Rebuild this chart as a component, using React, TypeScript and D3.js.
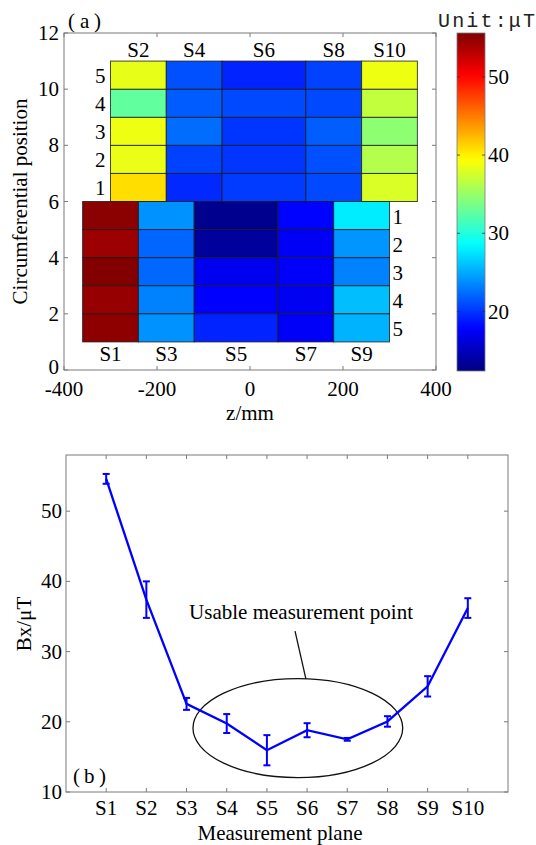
import React from 'react';
import * as d3 from 'd3';

// ---- Panel (a): Bx distribution over the measurement planes ----
const zTicks = [-400, -200, 0, 200, 400];
const posTicks = [0, 2, 4, 6, 8, 10, 12];
const rowIds = [1, 2, 3, 4, 5];

const upperPlanes = ['S2', 'S4', 'S6', 'S8', 'S10'];
const upperEdges = [-300, -180, -60, 120, 240, 360];
// one list per plane, circumferential rows 1..5
const upperValues = [
  [40.8, 38.5, 38.7, 32.7, 38.4],
  [19.5, 20.6, 22.4, 21.7, 21.2],
  [20.3, 20.0, 20.0, 20.9, 19.3],
  [20.9, 21.2, 21.8, 20.9, 20.6],
  [37.8, 36.2, 34.6, 36.8, 38.7],
];

const lowerPlanes = ['S1', 'S3', 'S5', 'S7', 'S9'];
const lowerEdges = [-360, -240, -120, 60, 180, 300];
const lowerValues = [
  [55.1, 54.4, 55.5, 54.6, 55.0],
  [24.0, 22.1, 22.2, 23.3, 24.0],
  [13.0, 13.6, 17.2, 17.8, 19.3],
  [17.9, 17.4, 17.6, 17.3, 17.5],
  [27.8, 24.1, 23.3, 25.9, 25.4],
];

const colorTicks = [20, 30, 40, 50];
const colorDomain = [12.4, 55.6];

// ---- Panel (b): mean Bx per plane with spread ----
const planes = ['S1', 'S2', 'S3', 'S4', 'S5', 'S6', 'S7', 'S8', 'S9', 'S10'];
const bxMean = [54.6, 37.4, 22.55, 19.75, 15.95, 18.8, 17.5, 20.05, 25.05, 36.2];
const bxErr = [0.7, 2.6, 0.85, 1.35, 2.15, 1.0, 0.2, 0.75, 1.45, 1.4];
const bxTicks = [10, 20, 30, 40, 50];

const SERIF = '"Liberation Serif", "Times New Roman", serif';
const MONO = '"Liberation Mono", "DejaVu Sans Mono", monospace';
const AXIS = '#7a7a7a';
const FS = 21;

function jet(t: number): string {
  const c = (v: number) => Math.max(0, Math.min(1, v));
  const r = c(1.5 - Math.abs(4 * t - 3));
  const g = c(1.5 - Math.abs(4 * t - 2));
  const b = c(1.5 - Math.abs(4 * t - 1));
  return d3.rgb(r * 255, g * 255, b * 255).formatHex();
}

export default function App() {
  // panel (a) scales
  const xA = d3.scaleLinear().domain([-400, 400]).range([64, 436]);
  const yA = d3.scaleLinear().domain([0, 12]).range([370, 33]);
  const cNorm = d3.scaleLinear().domain(colorDomain).range([0, 1]).clamp(true);
  const color = (v: number) => jet(cNorm(v));
  const cbY = d3.scaleLinear().domain(colorDomain).range([371, 33]);
  const cbX0 = 457;
  const cbX1 = 485;

  // panel (b) scales
  const xB = d3.scaleLinear().domain([0, 11]).range([66, 508]);
  const yB = d3.scaleLinear().domain([10, 58]).range([792, 455]);
  const line = d3
    .line<number>()
    .x((_, i) => xB(i + 1))
    .y((d) => yB(d));

  const gradStops = d3.range(0, 1.0001, 0.02);

  const cells = (edges: number[], values: number[][], upper: boolean) =>
    values.flatMap((col, ci) =>
      col.map((v, ri) => {
        const r = rowIds[ri];
        const y0 = upper ? 5 + r : 6 - r;
        return (
          <rect
            key={`${upper ? 'u' : 'l'}-${ci}-${ri}`}
            x={xA(edges[ci])}
            y={yA(y0 + 1)}
            width={xA(edges[ci + 1]) - xA(edges[ci])}
            height={yA(y0) - yA(y0 + 1)}
            fill={color(v)}
            stroke="#1a1a1a"
            strokeOpacity={0.8}
            strokeWidth={1}
          />
        );
      })
    );

  return (
    <svg
      width={536}
      height={845}
      style={{ position: 'absolute', left: 0, top: 0, background: '#fff', fontFamily: SERIF }}
    >
      <defs>
        <linearGradient id="jetbar" x1="0" y1="1" x2="0" y2="0">
          {gradStops.map((t) => (
            <stop key={t} offset={t} stopColor={jet(t)} />
          ))}
        </linearGradient>
      </defs>

      {/* ---------- panel (a) ---------- */}
      <text y={28} fontSize={FS}>
        <tspan x={68}>(</tspan>
        <tspan x={80}>a</tspan>
        <tspan x={94}>)</tspan>
      </text>

      {cells(upperEdges, upperValues, true)}
      {cells(lowerEdges, lowerValues, false)}

      {/* column labels */}
      {upperPlanes.map((p, i) => (
        <text
          key={p}
          x={(xA(upperEdges[i]) + xA(upperEdges[i + 1])) / 2}
          y={yA(11) - 4}
          fontSize={FS}
          textAnchor="middle"
        >
          {p}
        </text>
      ))}
      {lowerPlanes.map((p, i) => (
        <text
          key={p}
          x={(xA(lowerEdges[i]) + xA(lowerEdges[i + 1])) / 2}
          y={yA(1) + 19}
          fontSize={FS}
          textAnchor="middle"
        >
          {p}
        </text>
      ))}
      {/* row labels */}
      {rowIds.map((r) => (
        <text
          key={`ur${r}`}
          x={xA(upperEdges[0]) - 5}
          y={yA(5.5 + r) + 8}
          fontSize={FS}
          textAnchor="end"
        >
          {r}
        </text>
      ))}
      {rowIds.map((r) => (
        <text
          key={`lr${r}`}
          x={xA(lowerEdges[5]) + 3}
          y={yA(6.5 - r) + 8}
          fontSize={FS}
        >
          {r}
        </text>
      ))}

      {/* axes box and ticks */}
      <rect
        x={xA(-400)}
        y={yA(12)}
        width={xA(400) - xA(-400)}
        height={yA(0) - yA(12)}
        fill="none"
        stroke={AXIS}
        strokeWidth={1}
      />
      {zTicks.map((t) => (
        <g key={`zt${t}`}>
          <line x1={xA(t)} x2={xA(t)} y1={yA(0)} y2={yA(0) - 4} stroke={AXIS} />
          <line x1={xA(t)} x2={xA(t)} y1={yA(12)} y2={yA(12) + 4} stroke={AXIS} />
          <text x={xA(t)} y={yA(0) + 26} fontSize={FS} textAnchor="middle">
            {t}
          </text>
        </g>
      ))}
      {posTicks.map((t) => (
        <g key={`pt${t}`}>
          <line x1={xA(-400)} x2={xA(-400) + 4} y1={yA(t)} y2={yA(t)} stroke={AXIS} />
          <line x1={xA(400)} x2={xA(400) - 4} y1={yA(t)} y2={yA(t)} stroke={AXIS} />
          <text x={xA(-400) - 5} y={yA(t) + (t === 0 ? 4 : 7)} fontSize={FS} textAnchor="end">
            {t}
          </text>
        </g>
      ))}
      <text x={250} y={420} fontSize={FS} textAnchor="middle">
        z/mm
      </text>
      <text
        transform={`translate(27, ${(yA(0) + yA(12)) / 2}) rotate(-90)`}
        fontSize={FS}
        textAnchor="middle"
      >
        Circumferential position
      </text>

      {/* colour bar */}
      <rect
        x={cbX0}
        y={cbY(colorDomain[1])}
        width={cbX1 - cbX0}
        height={cbY(colorDomain[0]) - cbY(colorDomain[1])}
        fill="url(#jetbar)"
        stroke={AXIS}
        strokeWidth={0.8}
      />
      {colorTicks.map((t) => (
        <g key={`ct${t}`}>
          <line x1={cbX0} x2={cbX0 + 3} y1={cbY(t)} y2={cbY(t)} stroke="#333" strokeWidth={0.8} />
          <line x1={cbX1} x2={cbX1 - 3} y1={cbY(t)} y2={cbY(t)} stroke="#333" strokeWidth={0.8} />
          <text x={cbX1 + 3} y={cbY(t) + 7} fontSize={FS}>
            {t}
          </text>
        </g>
      ))}
      <text
        x={438}
        y={27}
        fontSize={20}
        style={{ fontFamily: MONO }}
        fill="#222"
        textLength={97}
        lengthAdjust="spacing"
      >
        Unit:μT
      </text>

      {/* ---------- panel (b) ---------- */}
      <rect
        x={xB(0)}
        y={yB(58)}
        width={xB(11) - xB(0)}
        height={yB(10) - yB(58)}
        fill="none"
        stroke={AXIS}
        strokeWidth={1}
      />
      {planes.map((p, i) => (
        <g key={`bx${p}`}>
          <line x1={xB(i + 1)} x2={xB(i + 1)} y1={yB(10)} y2={yB(10) - 4} stroke={AXIS} />
          <line x1={xB(i + 1)} x2={xB(i + 1)} y1={yB(58)} y2={yB(58) + 4} stroke={AXIS} />
          <text x={xB(i + 1)} y={yB(10) + 23} fontSize={FS} textAnchor="middle">
            {p}
          </text>
        </g>
      ))}
      {bxTicks.map((t) => (
        <g key={`by${t}`}>
          <line x1={xB(0)} x2={xB(0) + 4} y1={yB(t)} y2={yB(t)} stroke={AXIS} />
          <line x1={xB(11)} x2={xB(11) - 4} y1={yB(t)} y2={yB(t)} stroke={AXIS} />
          <text x={xB(0) - 4} y={yB(t) + 7} fontSize={FS} textAnchor="end">
            {t}
          </text>
        </g>
      ))}
      <text x={280} y={840} fontSize={FS} textAnchor="middle">
        Measurement plane
      </text>
      <text
        transform={`translate(31, 624) rotate(-90)`}
        fontSize={FS}
        textAnchor="middle"
      >
        Bx/μT
      </text>
      <text y={783} fontSize={FS}>
        <tspan x={73}>(</tspan>
        <tspan x={84}>b</tspan>
        <tspan x={99}>)</tspan>
      </text>

      {/* usable region annotation */}
      <ellipse
        cx={xB(5.77)}
        cy={yB(19.1)}
        rx={xB(5.77 + 2.61) - xB(5.77)}
        ry={yB(19.1) - yB(19.1 + 7.05)}
        fill="none"
        stroke="#111"
        strokeWidth={1.3}
      />
      <line
        x1={xB(5.7)}
        y1={yB(32.9)}
        x2={xB(5.97)}
        y2={yB(26.1)}
        stroke="#111"
        strokeWidth={1.3}
      />
      <text x={xB(5.85)} y={yB(34.6)} fontSize={FS} textAnchor="middle">
        Usable measurement point
      </text>

      {/* mean line with error bars */}
      <path d={line(bxMean) ?? ''} fill="none" stroke="#0000ff" strokeWidth={2.3} />
      {bxMean.map((m, i) => {
        const x = xB(i + 1);
        const yt = yB(m + bxErr[i]);
        const yb = yB(m - bxErr[i]);
        return (
          <g key={`eb${i}`} stroke="#0000ff" strokeWidth={2}>
            <line x1={x} x2={x} y1={yt} y2={yb} />
            <line x1={x - 3.5} x2={x + 3.5} y1={yt} y2={yt} />
            <line x1={x - 3.5} x2={x + 3.5} y1={yb} y2={yb} />
          </g>
        );
      })}
    </svg>
  );
}
